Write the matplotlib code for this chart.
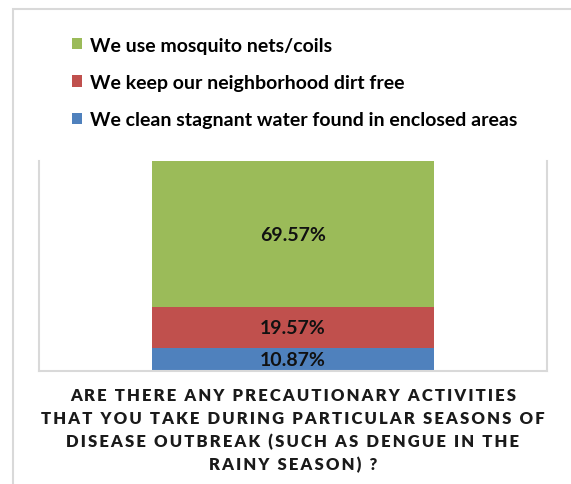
import matplotlib
matplotlib.use("Agg")
import matplotlib.pyplot as plt
from matplotlib.patches import Rectangle

categories = ["Precautions"]
series_names = [
    "We clean stagnant water found in enclosed areas",
    "We keep our neighborhood dirt free",
    "We use mosquito nets/coils",
]
series_values = [10.87, 19.57, 69.57]
series_colors = ["#4F81BD", "#C0504D", "#9BBB59"]
title_lines = [
    "ARE THERE ANY PRECAUTIONARY ACTIVITIES",
    "THAT YOU TAKE DURING PARTICULAR SEASONS OF",
    "DISEASE OUTBREAK (SUCH AS DENGUE IN THE",
    "RAINY SEASON) ?",
]

W, H = 571, 485
fig = plt.figure(figsize=(W / 100, H / 100), dpi=100)
fig.patch.set_facecolor("white")
FONT = ["Lato", "DejaVu Sans"]

# chart frame
fig.patches.append(Rectangle((13 / W, -0.1), 1.2, (H - 10) / H + 0.1,
                             transform=fig.transFigure, fill=False,
                             edgecolor="#D9D9D9", linewidth=1.5))

# plot area (pixels: x 39..547, y 162..372)
ax = fig.add_axes([39 / W, 1 - 372 / H, (547 - 39) / W, (372 - 162) / H])
bottom = 0.0
bars = []
for name, val, col in zip(series_names, series_values, series_colors):
    b = ax.bar(0, val, width=0.557, bottom=bottom, color=col, label=name,
               edgecolor="none")
    bars.append(b)
    ax.text(0, bottom + val / 2, f"{val:.2f}%", ha="center", va="center",
            fontsize=14, fontweight="bold", family=FONT, color="#111111")
    bottom += val

ax.set_xlim(-0.5, 0.5)
ax.set_ylim(0, 100)
ax.set_xticks([])
ax.set_yticks([])
ax.spines["top"].set_visible(False)
for side in ["left", "right", "bottom"]:
    ax.spines[side].set_color("#D9D9D9")
    ax.spines[side].set_linewidth(1.5)

# legend, top entry first
handles = bars[::-1]
labels = series_names[::-1]
leg = fig.legend(handles, labels, loc="upper left",
                 bbox_to_anchor=(54 / W, 1 - 20 / H), frameon=False,
                 handlelength=0.55, handleheight=0.55, handletextpad=0.4,
                 labelspacing=1.05,
                 prop={"family": FONT, "weight": "bold", "size": 14})

# letter-spaced category title
sp = "\u2009"
ys = [396, 419, 442, 465]
for line, y in zip(title_lines, ys):
    spaced = sp.join(line)
    fig.text(293 / W, 1 - y / H, spaced, ha="center", va="center",
             fontsize=12, fontweight="heavy", family=FONT, color="#1a1a1a")

fig.savefig("out.png", dpi=100, facecolor="white")
